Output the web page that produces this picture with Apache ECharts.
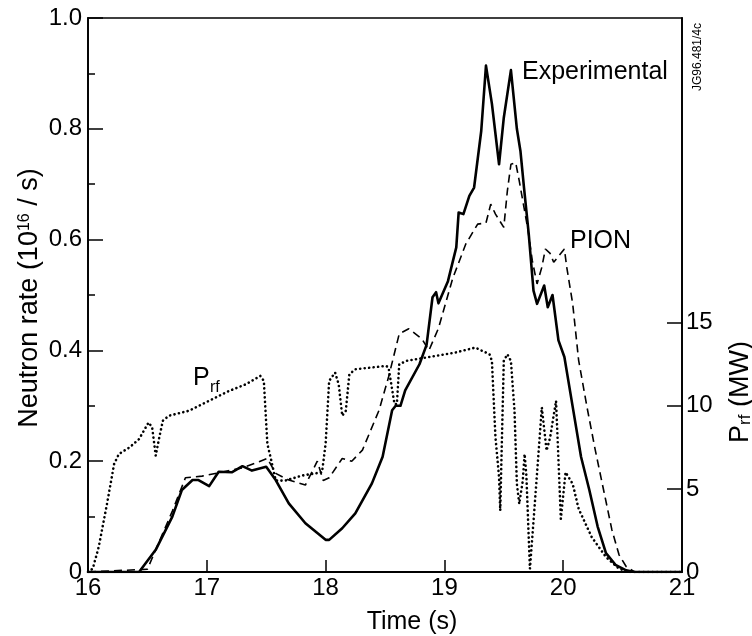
<!DOCTYPE html>
<html>
<head>
<meta charset="utf-8">
<script src="https://cdn.jsdelivr.net/npm/echarts@6/dist/echarts.min.js"></script>
<style>html,body{margin:0;padding:0;background:#fff}#c{width:752px;height:636px}</style>
</head>
<body>
<div id="c"></div>
<script>
// Experimental neutron rate (10^16 /s)
const tExp = [16.0,16.43,16.57,16.71,16.79,16.88,16.93,17.02,17.10,17.21,17.30,17.38,17.50,17.58,17.69,17.83,18.0,18.03,18.14,18.25,18.39,18.48,18.56,18.59,18.63,18.67,18.79,18.85,18.90,18.93,18.95,19.03,19.10,19.12,19.16,19.21,19.25,19.31,19.35,19.40,19.46,19.50,19.56,19.61,19.64,19.67,19.71,19.75,19.78,19.84,19.87,19.91,19.96,20.01,20.08,20.15,20.22,20.29,20.36,20.44,20.53,20.6,21.0];
const vExp = [0,0,0.04,0.10,0.148,0.166,0.166,0.155,0.181,0.18,0.191,0.183,0.19,0.166,0.124,0.088,0.058,0.058,0.079,0.106,0.160,0.208,0.292,0.30,0.30,0.328,0.375,0.41,0.496,0.505,0.485,0.525,0.586,0.649,0.646,0.679,0.694,0.796,0.914,0.845,0.736,0.82,0.906,0.80,0.76,0.694,0.61,0.508,0.484,0.517,0.478,0.50,0.418,0.388,0.298,0.208,0.148,0.082,0.034,0.013,0.003,0,0];
// PION simulation
const tPion = [16.0,16.50,16.71,16.82,16.96,17.12,17.30,17.44,17.51,17.58,17.69,17.83,17.93,17.98,18.03,18.14,18.22,18.31,18.45,18.53,18.62,18.70,18.81,18.87,18.95,19.07,19.18,19.28,19.35,19.39,19.43,19.50,19.53,19.56,19.60,19.63,19.70,19.74,19.78,19.82,19.85,19.89,19.92,20.01,20.03,20.08,20.13,20.20,20.27,20.34,20.41,20.47,20.53,20.6,21.0];
const vPion = [0,0.005,0.11,0.17,0.173,0.18,0.188,0.199,0.205,0.178,0.166,0.157,0.20,0.165,0.17,0.205,0.20,0.22,0.292,0.352,0.43,0.439,0.421,0.40,0.44,0.53,0.592,0.628,0.63,0.664,0.646,0.622,0.688,0.736,0.739,0.706,0.622,0.562,0.52,0.55,0.583,0.575,0.559,0.583,0.55,0.484,0.382,0.298,0.22,0.148,0.076,0.031,0.01,0,0];
// RF power (MW)
const tRf = [16.0,16.04,16.09,16.16,16.22,16.26,16.35,16.43,16.51,16.54,16.57,16.60,16.63,16.68,16.85,16.99,17.19,17.33,17.45,17.48,17.51,17.54,17.58,17.66,17.80,17.97,18.00,18.03,18.08,18.11,18.14,18.17,18.20,18.25,18.51,18.53,18.58,18.60,18.62,18.68,18.84,19.09,19.26,19.38,19.40,19.43,19.46,19.47,19.50,19.53,19.56,19.59,19.61,19.63,19.66,19.675,19.69,19.72,19.76,19.82,19.86,19.89,19.94,19.98,20.02,20.08,20.13,20.24,20.36,20.47,20.55,21.0];
const pRf = [0,0.2,1.5,4.1,6.5,7.1,7.5,8.0,9.0,8.7,7.0,8.1,9.1,9.4,9.7,10.2,10.9,11.3,11.8,11.5,7.7,6.8,5.5,5.5,5.8,6.0,7.7,11.5,12.0,11.3,9.4,9.7,11.9,12.2,12.4,12.3,10.1,10.1,12.5,12.7,12.9,13.2,13.5,13.1,12.7,8.1,5.7,3.7,12.7,13.1,12.7,9.7,5.3,4.1,5.5,7.1,5.8,0.2,4.0,9.9,7.3,8.1,10.3,3.2,6.0,5.3,3.8,2.1,0.9,0.2,0,0];
const leftTicks = [0,0.2,0.4,0.6,0.8,1.0];
const rightTicks = [0,5,10,15];

const FONT = '"Liberation Sans", Arial, Helvetica, sans-serif';
const zip = (a,b) => a.map((t,i)=>[t,b[i]]);
const chart = echarts.init(document.getElementById('c'), null, {renderer:'canvas'});
const axisLineStyle = {color:'#000', width:1.8};
chart.setOption({
  animation:false,
  backgroundColor:'#fff',
  grid:{left:88, right:70, top:18, bottom:64, show:true, borderColor:'#000', borderWidth:1.6, backgroundColor:'transparent'},
  xAxis:{type:'value', min:16, max:21, interval:1,
    axisLine:{show:true, onZero:false, lineStyle:axisLineStyle},
    axisTick:{show:true, inside:true, length:12, lineStyle:{color:'#000', width:1.5}},
    axisLabel:{margin:4, fontSize:24, color:'#000', fontFamily:FONT},
    splitLine:{show:false}},
  yAxis:[
    {type:'value', min:0, max:1, interval:0.2,
      axisLine:{show:true, lineStyle:axisLineStyle},
      axisTick:{show:true, inside:true, length:15, lineStyle:{color:'#000', width:1.5}},
      minorTick:{show:true, splitNumber:2, length:7, lineStyle:{color:'#000', width:1.5}},
      axisLabel:{margin:6, fontSize:24, color:'#000', fontFamily:FONT,
        customValues:leftTicks,
        formatter:v=> v===0 ? '0' : v.toFixed(1)},
      splitLine:{show:false}},
    {type:'value', position:'right', min:0, max:100/3, interval:5, alignTicks:false,
      axisLine:{show:true, lineStyle:axisLineStyle},
      axisTick:{show:true, inside:true, length:15, customValues:rightTicks, lineStyle:{color:'#000', width:1.5}},
      axisLabel:{margin:4, fontSize:24, color:'#000', fontFamily:FONT, customValues:rightTicks},
      splitLine:{show:false}}
  ],
  series:[
    {type:'line', name:'Experimental', data:zip(tExp,vExp), showSymbol:false, symbol:'none',
      lineStyle:{color:'#000', width:2.6, join:'round'}, z:3},
    {type:'line', name:'PION', data:zip(tPion,vPion), showSymbol:false, symbol:'none',
      lineStyle:{color:'#000', width:1.6, type:[8,5]}, z:2},
    {type:'line', name:'Prf', yAxisIndex:1, data:zip(tRf,pRf), showSymbol:false, symbol:'none',
      lineStyle:{color:'#000', width:2.6, type:[0.1,4.4], cap:'round'}, z:1}
  ],
  graphic:[
    {type:'text', x:522, y:72, style:{text:'Experimental', fontSize:25, fontFamily:FONT, fill:'#000', verticalAlign:'middle', align:'left'}},
    {type:'text', x:570, y:241, style:{text:'PION', fontSize:25, fontFamily:FONT, fill:'#000', verticalAlign:'middle', align:'left'}},
    {type:'text', x:193, y:378, style:{text:'P', fontSize:25, fontFamily:FONT, fill:'#000', verticalAlign:'middle', align:'left'}},
    {type:'text', x:210, y:388, style:{text:'rf', fontSize:16, fontFamily:FONT, fill:'#000', verticalAlign:'middle', align:'left'}},
    {type:'text', x:698, y:57, rotation:Math.PI/2, style:{text:'JG96.481/4c', fontSize:12, fontFamily:FONT, fill:'#000', verticalAlign:'middle', align:'center'}},
    {type:'text', x:412, y:622, style:{text:'Time (s)', fontSize:25, fontFamily:FONT, fill:'#000', verticalAlign:'middle', align:'center'}},
    {type:'text', x:30, y:298, rotation:Math.PI/2, style:{text:'Neutron rate (10{sup|16} / s)', fontSize:27, fontFamily:FONT, fill:'#000', verticalAlign:'middle', align:'center',
      rich:{sup:{fontSize:16, fontFamily:FONT, fill:'#000', verticalAlign:'top', padding:[0,0,10,0]}}}},
    {type:'text', x:741, y:392, rotation:Math.PI/2, style:{text:'P{sub|rf} (MW)', fontSize:27, fontFamily:FONT, fill:'#000', verticalAlign:'middle', align:'center',
      rich:{sub:{fontSize:17, fontFamily:FONT, fill:'#000', padding:[9,0,0,0]}}}}
  ]
});
</script>
</body>
</html>
